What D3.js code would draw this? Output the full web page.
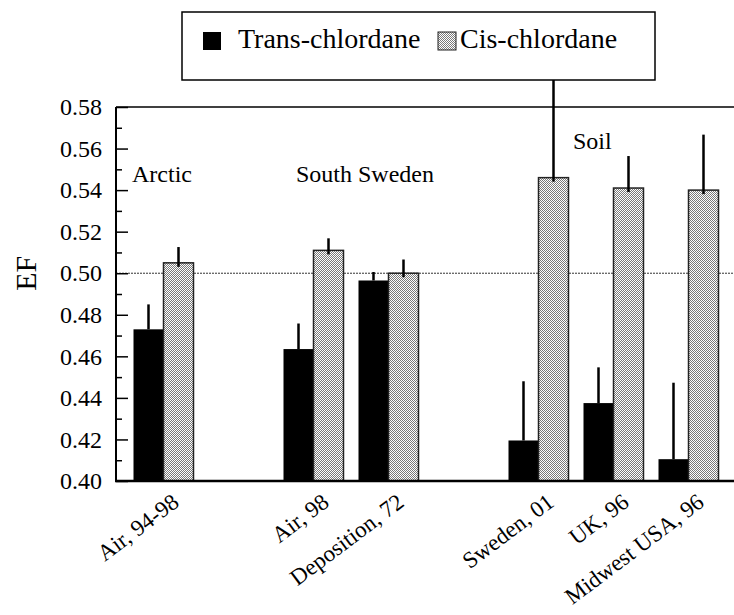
<!DOCTYPE html>
<html>
<head>
<meta charset="utf-8">
<script src="https://cdn.jsdelivr.net/npm/d3@7"></script>
<style>
  body { margin: 0; background: #fff; }
  svg text { font-family: "Liberation Serif", "Times New Roman", Times, "DejaVu Serif", serif; fill: #000; }
</style>
</head>
<body>
<div id="chart"></div>
<script>
// values
const categories = ["Air, 94-98", "Air, 98", "Deposition, 72", "Sweden, 01", "UK, 96", "Midwest USA, 96"];
const categoryRegion = ["Arctic", "South Sweden", "South Sweden", "Soil", "Soil", "Soil"];
const seriesNames = ["Trans-chlordane", "Cis-chlordane"];
const transValues = [0.473, 0.4635, 0.4965, 0.4195, 0.4375, 0.4105];
const transErrTop = [0.485, 0.4758, 0.5006, 0.448, 0.4547, 0.4473];
const cisValues = [0.505, 0.511, 0.5, 0.546, 0.541, 0.540];
const cisErrTop = [0.5126, 0.5168, 0.5066, 0.60, 0.5564, 0.5667];
const yTicks = [0.40, 0.42, 0.44, 0.46, 0.48, 0.50, 0.52, 0.54, 0.56, 0.58];
const regionLabels = ["Arctic", "South Sweden", "Soil"];
const regionLabelY = [0.5439, 0.5439, 0.560];
const refLine = 0.50;

const FONT = '"Liberation Serif", "Times New Roman", Times, "DejaVu Serif", serif';

const config = {
  width: 734,
  height: 615,
  margin: { top: 107, left: 116 },
  plotW: 620,
  plotH: 374,
};

const svg = d3.select("#chart")
  .append("svg")
  .attr("width", config.width)
  .attr("height", config.height)
  .attr("font-family", FONT);

// pattern for the cis bars (fine checker)
const defs = svg.append("defs");
const pat = defs.append("pattern")
  .attr("id", "checker")
  .attr("width", 2)
  .attr("height", 2)
  .attr("patternUnits", "userSpaceOnUse");
pat.append("rect").attr("width", 2).attr("height", 2).attr("fill", "#fff");
pat.append("rect").attr("width", 1).attr("height", 1).attr("fill", "#7a7a7a");
pat.append("rect").attr("x", 1).attr("y", 1).attr("width", 1).attr("height", 1).attr("fill", "#7a7a7a");

const g = svg.append("g")
  .attr("transform", `translate(${config.margin.left},${config.margin.top})`);

// slot domain: categories with an empty slot between regions
const slots = [];
categories.forEach((c, i) => {
  if (i > 0 && categoryRegion[i] !== categoryRegion[i - 1]) slots.push("gap-" + i);
  slots.push(c);
});

const x = d3.scaleBand().domain(slots).range([10, 610]).padding(0);
const xSub = d3.scaleBand().domain(["trans", "cis"]).range([x.bandwidth() * 0.1, x.bandwidth() * 0.9]);
const y = d3.scaleLinear().domain([0.40, 0.58]).range([config.plotH, 0]);

const data = categories.map((c, i) => ({
  cat: c,
  trans: transValues[i],
  transErr: transErrTop[i],
  cis: cisValues[i],
  cisErr: cisErrTop[i],
}));

// top border of the frame
g.append("line")
  .attr("x1", 0).attr("x2", config.plotW)
  .attr("y1", 0).attr("y2", 0)
  .attr("stroke", "#000").attr("stroke-width", 1.5);

// reference line at 0.50
g.append("line")
  .attr("x1", 0).attr("x2", config.plotW)
  .attr("y1", y(refLine)).attr("y2", y(refLine))
  .attr("stroke", "#333").attr("stroke-width", 1)
  .attr("stroke-dasharray", "2,1");

// bars
const groups = g.selectAll("g.group")
  .data(data)
  .join("g")
  .attr("class", "group")
  .attr("transform", (d) => `translate(${x(d.cat)},0)`);

groups.append("rect")
  .attr("x", xSub("trans"))
  .attr("y", (d) => y(d.trans))
  .attr("width", xSub.bandwidth())
  .attr("height", (d) => y(0.40) - y(d.trans))
  .attr("fill", "#000");

groups.append("rect")
  .attr("x", xSub("cis"))
  .attr("y", (d) => y(d.cis))
  .attr("width", xSub.bandwidth())
  .attr("height", (d) => y(0.40) - y(d.cis))
  .attr("fill", "url(#checker)")
  .attr("stroke", "#222")
  .attr("stroke-width", 1.5);

// one-sided error bars
groups.append("line")
  .attr("x1", xSub("trans") + xSub.bandwidth() / 2)
  .attr("x2", xSub("trans") + xSub.bandwidth() / 2)
  .attr("y1", (d) => y(d.trans))
  .attr("y2", (d) => y(d.transErr))
  .attr("stroke", "#000").attr("stroke-width", 2.5);

groups.append("line")
  .attr("x1", xSub("cis") + xSub.bandwidth() / 2)
  .attr("x2", xSub("cis") + xSub.bandwidth() / 2)
  .attr("y1", (d) => y(d.cis) + 4)
  .attr("y2", (d) => y(d.cisErr))
  .attr("stroke", "#000").attr("stroke-width", 2.5);

// y axis: major and minor inward ticks
const yAxis = g.append("g")
  .call(d3.axisLeft(y).tickValues(yTicks).tickSize(-12).tickPadding(14).tickFormat(d3.format(".2f")));
yAxis.attr("font-family", FONT).attr("font-size", 24);
yAxis.select(".domain").remove();
yAxis.selectAll(".tick line").attr("stroke-width", 1.5);

const minorTicks = yTicks.slice(0, -1).map((t) => +(t + 0.01).toFixed(2));
const yMinor = g.append("g")
  .call(d3.axisLeft(y).tickValues(minorTicks).tickSize(-6).tickFormat(""));
yMinor.select(".domain").remove();
yMinor.selectAll(".tick line").attr("stroke-width", 1.5);

g.append("line")
  .attr("x1", 0).attr("x2", 0)
  .attr("y1", 0).attr("y2", config.plotH)
  .attr("stroke", "#000").attr("stroke-width", 2);

// x axis line
g.append("line")
  .attr("x1", -1).attr("x2", config.plotW)
  .attr("y1", config.plotH).attr("y2", config.plotH)
  .attr("stroke", "#000").attr("stroke-width", 2.5);

// x labels
g.selectAll("text.xLabel")
  .data(categories)
  .join("text")
  .attr("class", "xLabel")
  .attr("transform", (d) => `translate(${x(d) + x.bandwidth() / 2 + 17},${config.plotH + 24}) rotate(-37)`)
  .style("text-anchor", "end")
  .style("font-size", "23px")
  .text((d) => d);

// y title
svg.append("text")
  .attr("transform", `translate(36,${config.margin.top + y(0.50)}) rotate(-90)`)
  .style("text-anchor", "middle")
  .style("font-size", "30px")
  .text("EF");

// region labels
const regionFirst = regionLabels.map((r) => categories[categoryRegion.indexOf(r)]);
const regionDx = [6, 20, 72];
g.selectAll("text.region")
  .data(regionLabels)
  .join("text")
  .attr("class", "region")
  .attr("x", (d, i) => x(regionFirst[i]) + regionDx[i])
  .attr("y", (d, i) => y(regionLabelY[i]))
  .style("font-size", "24px")
  .text((d) => d);

// legend
const legend = svg.append("g").attr("transform", "translate(182,12)");
legend.append("rect")
  .attr("width", 473).attr("height", 68)
  .attr("fill", "#fff").attr("stroke", "#000").attr("stroke-width", 1.5);
const legendX = [21, 256];
const legendFill = ["#000", "url(#checker)"];
seriesNames.forEach((name, i) => {
  legend.append("rect")
    .attr("x", legendX[i]).attr("y", 20)
    .attr("width", 18).attr("height", 18)
    .attr("fill", legendFill[i])
    .attr("stroke", i === 1 ? "#222" : "none")
    .attr("stroke-width", 1);
  legend.append("text")
    .attr("x", legendX[i] + (i === 1 ? 22 : 35))
    .attr("y", 36)
    .style("font-size", "28px")
    .text(name);
});
</script>
</body>
</html>
